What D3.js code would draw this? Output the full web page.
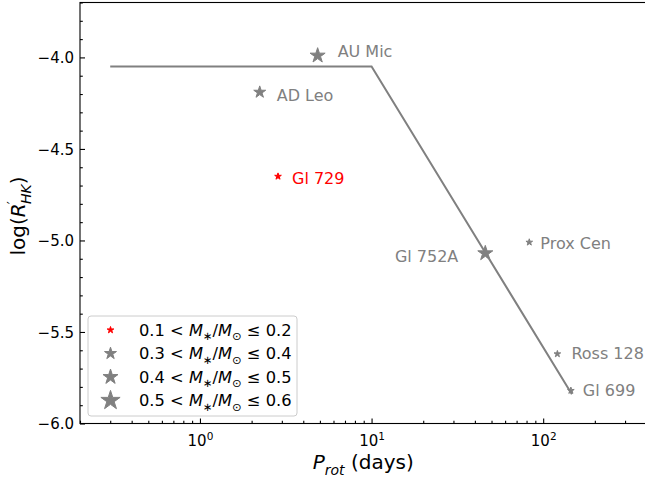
<!DOCTYPE html>
<html>
<head>
<meta charset="utf-8">
<script src="https://cdn.jsdelivr.net/npm/d3@7"></script>
<style>
  body { margin: 0; background: #fff; }
  svg { display: block; }
  text { font-family: "DejaVu Sans", "Liberation Sans", sans-serif; }
</style>
</head>
<body>
<svg id="chart" width="645" height="479"></svg>
<script>
// ---- data: M dwarfs, rotation period vs. chromospheric activity ----
const starNames = ["AU Mic", "AD Leo", "Gl 729", "Prox Cen", "Gl 752A", "Ross 128", "Gl 699"];
const rotPeriods = [4.85, 2.23, 2.85, 83, 46, 121, 145];          // days
const logRhk     = [-3.99, -4.19, -4.65, -5.01, -5.07, -5.62, -5.82];
const massBin    = [2, 1, 0, 0, 2, 0, 0];                          // index into massBins
const highlighted = ["Gl 729"];

const massBins = [[0.1, 0.2], [0.3, 0.4], [0.4, 0.5], [0.5, 0.6]];

// activity–rotation relation: saturated plateau, then power-law decline
const relationP   = [0.3, 10, 147];
const relationLog = [-4.05, -4.05, -5.84];

const xMajorTicks = [1, 10, 100];
const yMajorTicks = [-6.0, -5.5, -5.0, -4.5, -4.0];
const xDomain = [0.2, 400];
const yDomain = [-6.0, -3.7];

// ---- layout / style ----
const plot = { left: 80, right: 646.5, top: 2.5, bottom: 423.5 };
const GREY = "#808080", RED = "#ff0000";
const starRadius = [3.5, 6.3, 7.9, 10.1];   // outer radius per mass bin (plus 1px edge)
const labelPlacement = {
  "AU Mic":   { dx: 20,  dy: -4,   anchor: "start" },
  "AD Leo":   { dx: 17,  dy: 3.5,  anchor: "start" },
  "Gl 729":   { dx: 14,  dy: 2.3,  anchor: "start" },
  "Prox Cen": { dx: 11,  dy: 0.5,  anchor: "start" },
  "Gl 752A":  { dx: -27, dy: 3.4,  anchor: "end" },
  "Ross 128": { dx: 14,  dy: -0.5, anchor: "start" },
  "Gl 699":   { dx: 12,  dy: 0,    anchor: "start" }
};

const svg = d3.select("#chart");
const x = d3.scaleLog().domain(xDomain).range([plot.left, plot.right]);
const y = d3.scaleLinear().domain(yDomain).range([plot.bottom, plot.top]);

// five-pointed star path centred on the origin
function starPath(R) {
  const r = R * 0.381966;
  const pts = [];
  for (let i = 0; i < 10; i++) {
    const a = -Math.PI / 2 + i * Math.PI / 5;
    const rad = i % 2 === 0 ? R : r;
    pts.push([rad * Math.cos(a), rad * Math.sin(a)]);
  }
  return "M" + pts.map(p => p[0].toFixed(2) + "," + p[1].toFixed(2)).join("L") + "Z";
}

// text built from segments with italic / sub / superscript parts
function richText(sel, segs, size) {
  let shift = 0;
  segs.forEach(s => {
    const target = s.sub ? 0.28 * size : s.sup ? -0.38 * size : 0;
    sel.append("tspan")
      .attr("dy", (target - shift).toFixed(2))
      .attr("dx", s.dx || 0)
      .style("font-size", (s.sub || s.sup ? 0.7 * size : size) + "px")
      .style("font-style", s.it ? "italic" : "normal")
      .text(s.t);
    shift = target;
  });
}

// ---- axes ----
const xMinor = [];
for (let d = 0.1; d < 1000; d *= 10)
  for (let k = 2; k <= 9; k++) {
    const v = +(d * k).toPrecision(3);
    if (v >= xDomain[0] && v <= xDomain[1]) xMinor.push(v);
  }
const yMinor = d3.range(-60, -36, 1).map(v => v / 10).filter(v => yMajorTicks.indexOf(v) < 0);

const xAxis = svg.append("g").attr("transform", `translate(0,${plot.bottom})`)
  .call(d3.axisBottom(x).tickValues(xMajorTicks).tickSize(-5).tickPadding(7).tickFormat(""));
svg.append("g").attr("transform", `translate(0,${plot.bottom})`)
  .call(d3.axisBottom(x).tickValues(xMinor).tickSize(-2.8).tickFormat(""));
const yAxis = svg.append("g").attr("transform", `translate(${plot.left},0)`)
  .call(d3.axisLeft(y).tickValues(yMajorTicks).tickSize(-5).tickPadding(6)
    .tickFormat(d => d3.format(".1f")(d).replace("-", "\u2212")));
svg.append("g").attr("transform", `translate(${plot.left},0)`)
  .call(d3.axisLeft(y).tickValues(yMinor).tickSize(-2.8).tickFormat(""));

svg.selectAll(".domain").remove();
svg.selectAll(".tick line").attr("stroke", "#000").attr("stroke-width", 1.1);
yAxis.selectAll(".tick text").attr("fill", "#000").style("font-size", "15px")
  .attr("x", -6).attr("dy", "0.36em");

// powers-of-ten labels on the x axis
xAxis.selectAll(".tick").each(function (d) {
  const t = d3.select(this).append("text")
    .attr("y", 22).attr("text-anchor", "middle").attr("fill", "#000");
  richText(t, [{ t: "10" }, { t: String(Math.round(Math.log10(d))), sup: true }], 15);
});

// frame
svg.append("rect")
  .attr("x", plot.left).attr("y", plot.top)
  .attr("width", plot.right - plot.left).attr("height", plot.bottom - plot.top)
  .attr("fill", "none").attr("stroke", "#000").attr("stroke-width", 1.1);

// axis titles
const xt = svg.append("text").attr("x", (plot.left + plot.right) / 2).attr("y", 469)
  .attr("text-anchor", "middle").attr("fill", "#000");
richText(xt, [{ t: "P", it: true }, { t: "rot", it: true, sub: true }, { t: " (days)" }], 20);

const yt = svg.append("text").attr("transform", "translate(25,216) rotate(-90)")
  .attr("text-anchor", "middle").attr("fill", "#000");
richText(yt, [{ t: "log(" }, { t: "R", it: true }, { t: "\u2032", sup: true, dx: -1 },
  { t: "HK", it: true, sub: true, dx: -3 }, { t: ")" }], 20);

// ---- relation line ----
const relation = relationP.map((p, i) => [p, relationLog[i]]);
svg.append("path")
  .datum(relation)
  .attr("d", d3.line().x(d => x(d[0])).y(d => y(d[1])))
  .attr("fill", "none").attr("stroke", GREY).attr("stroke-width", 2);

// ---- stars and labels ----
const stars = starNames.map((n, i) => ({
  name: n, p: rotPeriods[i], r: logRhk[i], bin: massBin[i],
  color: highlighted.includes(n) ? RED : GREY
}));

svg.append("g").selectAll("path").data(stars).join("path")
  .attr("transform", d => `translate(${x(d.p)},${y(d.r)})`)
  .attr("d", d => starPath(starRadius[d.bin]))
  .attr("fill", d => d.color)
  .attr("stroke", d => d.color).attr("stroke-width", 1).attr("stroke-linejoin", "round");

svg.append("g").selectAll("text").data(stars).join("text")
  .attr("x", d => x(d.p) + labelPlacement[d.name].dx)
  .attr("y", d => y(d.r) + labelPlacement[d.name].dy)
  .attr("dy", "0.36em")
  .attr("text-anchor", d => labelPlacement[d.name].anchor)
  .attr("fill", d => d.color)
  .style("font-size", "16px")
  .text(d => d.name);

// ---- legend ----
const legend = svg.append("g");
legend.append("rect")
  .attr("x", 88).attr("y", 316).attr("width", 209).attr("height", 100)
  .attr("rx", 3).attr("fill", "#fff").attr("fill-opacity", 0.8)
  .attr("stroke", "#cccccc").attr("stroke-width", 1);
const rowY = d3.scalePoint().domain(d3.range(massBins.length)).range([330, 400.5]);
massBins.forEach((b, i) => {
  const c = i === 0 ? RED : GREY;
  legend.append("path")
    .attr("transform", `translate(110.5,${rowY(i)})`)
    .attr("d", starPath(starRadius[i]))
    .attr("fill", c).attr("stroke", c).attr("stroke-width", 1).attr("stroke-linejoin", "round");
  const t = legend.append("text").attr("x", 139).attr("y", rowY(i) + 5.5).attr("fill", "#000");
  richText(t, [
    { t: b[0].toFixed(1) + " < " }, { t: "M", it: true }, { t: "\u2217", sub: true },
    { t: "/" }, { t: "M", it: true }, { t: "\u2299", sub: true },
    { t: " \u2264  " + b[1].toFixed(1) }
  ], 16.3);
});
</script>
</body>
</html>
